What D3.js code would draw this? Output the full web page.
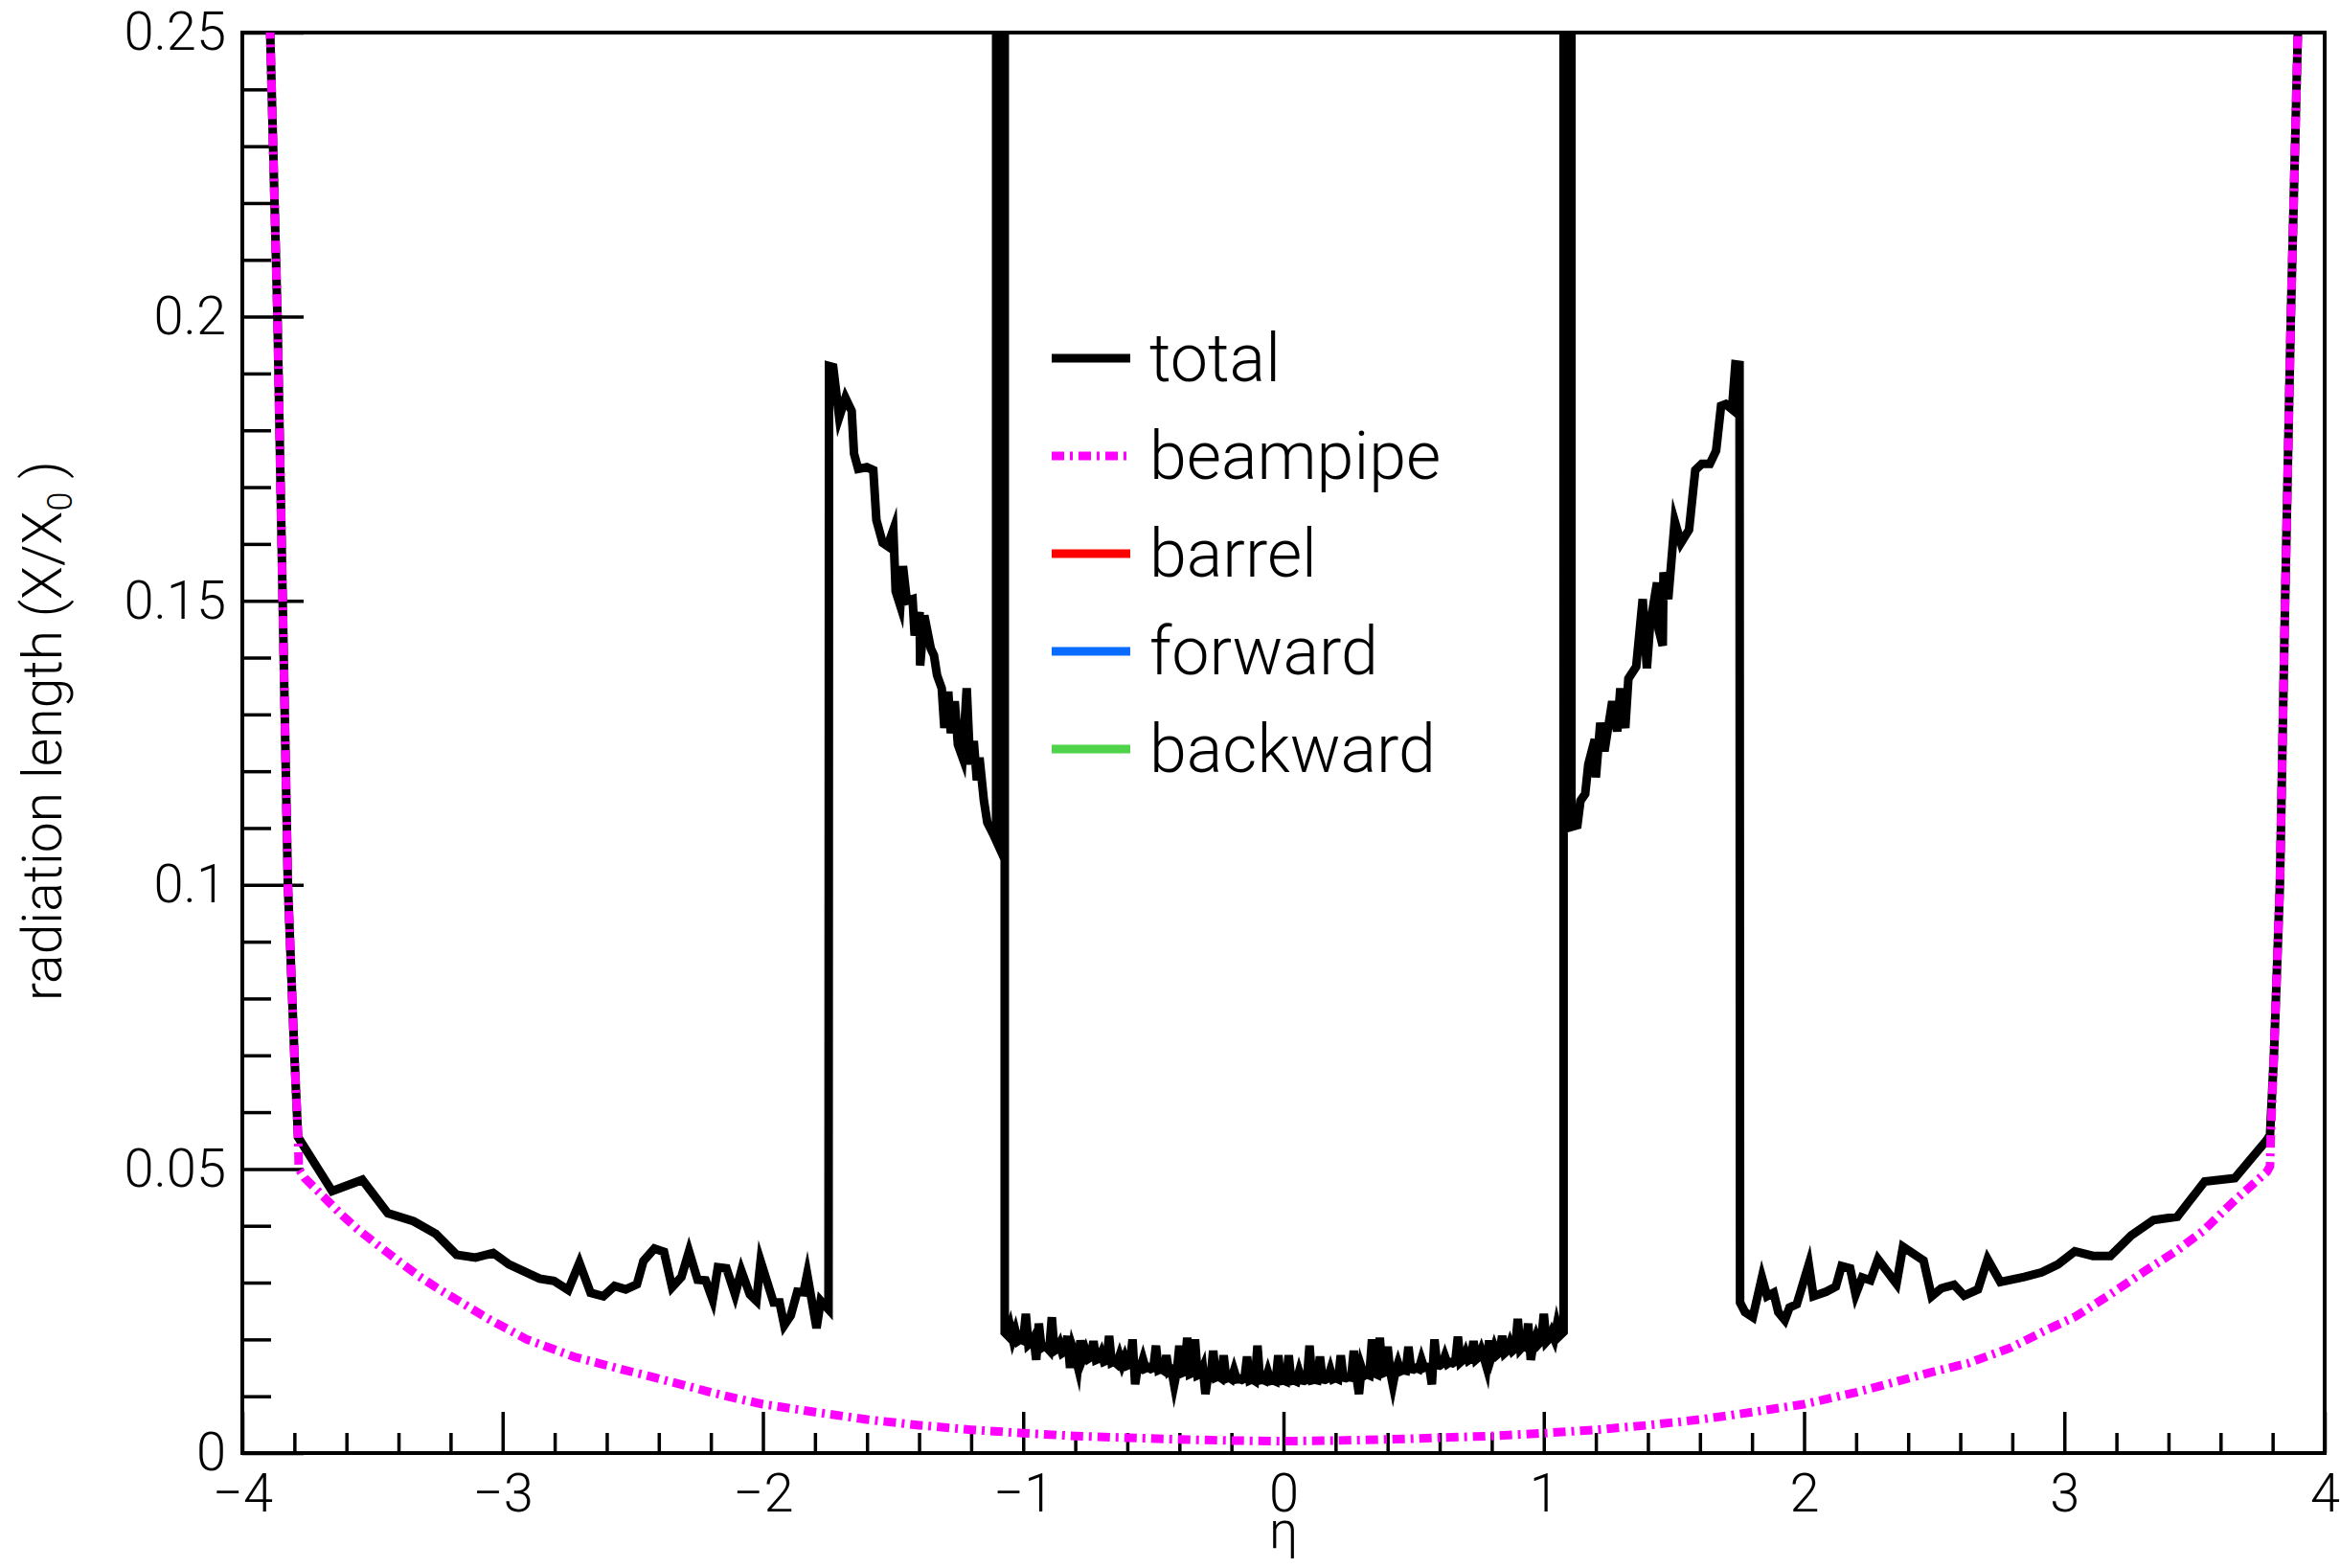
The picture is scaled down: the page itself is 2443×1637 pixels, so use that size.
<!DOCTYPE html>
<html>
<head>
<meta charset="utf-8">
<script src="https://cdn.jsdelivr.net/npm/d3@7"></script>
<style>
  body { margin: 0; background: #fff; }
  text { font-family: "Helvetica Neue", Roboto, "Liberation Sans", sans-serif; font-weight: 300; fill: #000; }
</style>
</head>
<body>
<div id="chart"></div>
<script>
// ---- data: [eta, X/X0] ----
var totalLeftTail = [
  [-3.905,0.27],[-3.893,0.25],[-3.865,0.2],[-3.845,0.15],[-3.825,0.1],[-3.800,0.07],[-3.786,0.0556],
  [-3.655,0.0461],[-3.539,0.0481],[-3.441,0.0422],[-3.342,0.0408],[-3.257,0.0386],[-3.177,0.0349],
  [-3.104,0.0344],[-3.036,0.0352],[-2.975,0.0332],[-2.858,0.0307],[-2.803,0.0303],[-2.748,0.0287],
  [-2.705,0.0335],[-2.662,0.0282],[-2.613,0.0276],[-2.570,0.0294],[-2.527,0.0288],[-2.484,0.0297],
  [-2.459,0.0338],[-2.417,0.0360],[-2.380,0.0354],[-2.349,0.0292],[-2.313,0.0310],[-2.284,0.0355],
  [-2.251,0.0305],[-2.220,0.0304],[-2.193,0.0270],[-2.173,0.0327],[-2.140,0.0325],[-2.107,0.0279],
  [-2.083,0.0321],[-2.050,0.0279],[-2.025,0.0268],[-2.009,0.0338],[-1.959,0.0265],[-1.936,0.0265],
  [-1.918,0.0225],[-1.893,0.0242],[-1.868,0.0284],[-1.844,0.0283],[-1.830,0.0315],[-1.794,0.0220],
  [-1.778,0.0268],[-1.748,0.0253]
];
var totalLeftBump = [
  [-1.746,0.1913],[-1.730,0.1911],[-1.707,0.1823],[-1.683,0.1857],[-1.659,0.1834],[-1.650,0.1759],
  [-1.634,0.1732],[-1.601,0.1735],[-1.576,0.1730],[-1.564,0.1642],[-1.540,0.1602],[-1.521,0.1596],
  [-1.499,0.1625],[-1.490,0.1517],[-1.472,0.1491],[-1.462,0.1561],[-1.447,0.1500],[-1.425,0.1503],
  [-1.417,0.1439],[-1.398,0.1480],[-1.396,0.1386],[-1.380,0.1474],[-1.355,0.1416],[-1.343,0.1404],
  [-1.331,0.1369],[-1.313,0.1346],[-1.303,0.1276],[-1.288,0.1340],[-1.278,0.1267],[-1.263,0.1323],
  [-1.251,0.1247],[-1.233,0.1224],[-1.217,0.1346],[-1.204,0.1212],[-1.190,0.1253],[-1.178,0.1184],
  [-1.168,0.1224],[-1.151,0.1148],[-1.138,0.1110],[-1.116,0.1090],[-1.104,0.1078],
  [-1.100,3.0],[-1.071,3.0],[-1.071,0.0212]
];
// central region, one point per 0.01 in eta
var totalCentre = [
  [-1.06,0.0207],[-1.05,0.0222],[-1.04,0.0201],[-1.03,0.0215],[-1.02,0.0197],[-1.01,0.0200],
  [-1.00,0.0198],[-0.99,0.0245],[-0.98,0.0191],[-0.97,0.0195],[-0.96,0.0203],[-0.95,0.0164],
  [-0.94,0.0228],[-0.93,0.0185],[-0.92,0.0188],[-0.91,0.0186],[-0.90,0.0181],[-0.89,0.0239],
  [-0.88,0.0180],[-0.87,0.0183],[-0.86,0.0192],[-0.85,0.0176],[-0.84,0.0179],[-0.83,0.0206],
  [-0.82,0.0150],[-0.81,0.0185],[-0.80,0.0171],[-0.79,0.0152],[-0.78,0.0198],[-0.77,0.0168],
  [-0.76,0.0180],[-0.75,0.0166],[-0.74,0.0169],[-0.73,0.0197],[-0.72,0.0164],[-0.71,0.0166],
  [-0.70,0.0176],[-0.69,0.0161],[-0.68,0.0163],[-0.67,0.0206],[-0.66,0.0159],[-0.65,0.0161],
  [-0.64,0.0157],[-0.63,0.0171],[-0.62,0.0156],[-0.61,0.0168],[-0.60,0.0154],[-0.59,0.0156],
  [-0.58,0.0200],[-0.57,0.0121],[-0.56,0.0153],[-0.55,0.0150],[-0.54,0.0165],[-0.53,0.0149],
  [-0.52,0.0151],[-0.51,0.0148],[-0.50,0.0150],[-0.49,0.0189],[-0.48,0.0146],[-0.47,0.0148],
  [-0.46,0.0145],[-0.45,0.0172],[-0.44,0.0143],[-0.43,0.0146],[-0.42,0.0120],[-0.41,0.0143],
  [-0.40,0.0189],[-0.39,0.0141],[-0.38,0.0143],[-0.37,0.0203],[-0.36,0.0139],[-0.35,0.0141],
  [-0.34,0.0200],[-0.33,0.0137],[-0.32,0.0139],[-0.31,0.0150],[-0.30,0.0104],[-0.29,0.0136],
  [-0.28,0.0134],[-0.27,0.0180],[-0.26,0.0133],[-0.25,0.0135],[-0.24,0.0132],[-0.23,0.0172],
  [-0.22,0.0131],[-0.21,0.0133],[-0.20,0.0130],[-0.19,0.0145],[-0.18,0.0130],[-0.17,0.0131],
  [-0.16,0.0129],[-0.15,0.0131],[-0.14,0.0170],[-0.13,0.0128],[-0.12,0.0130],[-0.11,0.0127],
  [-0.10,0.0189],[-0.09,0.0128],[-0.08,0.0129],[-0.07,0.0127],[-0.06,0.0142],[-0.05,0.0127],
  [-0.04,0.0128],[-0.03,0.0126],[-0.02,0.0172],[-0.01,0.0127],[0.00,0.0128],[0.01,0.0126],
  [0.02,0.0172],[0.03,0.0127],[0.04,0.0128],[0.05,0.0126],[0.06,0.0143],[0.07,0.0128],
  [0.08,0.0127],[0.09,0.0129],[0.10,0.0189],[0.11,0.0128],[0.12,0.0129],[0.13,0.0128],
  [0.14,0.0170],[0.15,0.0130],[0.16,0.0129],[0.17,0.0131],[0.18,0.0146],[0.19,0.0130],
  [0.20,0.0132],[0.21,0.0130],[0.22,0.0172],[0.23,0.0133],[0.24,0.0132],[0.25,0.0134],
  [0.26,0.0133],[0.27,0.0180],[0.28,0.0135],[0.29,0.0104],[0.30,0.0150],[0.31,0.0136],
  [0.32,0.0139],[0.33,0.0137],[0.34,0.0200],[0.35,0.0140],[0.36,0.0138],[0.37,0.0203],
  [0.38,0.0140],[0.39,0.0142],[0.40,0.0187],[0.41,0.0143],[0.42,0.0120],[0.43,0.0144],
  [0.44,0.0158],[0.45,0.0144],[0.46,0.0146],[0.47,0.0145],[0.48,0.0187],[0.49,0.0148],
  [0.50,0.0147],[0.51,0.0150],[0.52,0.0148],[0.53,0.0164],[0.54,0.0150],[0.55,0.0152],
  [0.56,0.0151],[0.57,0.0121],[0.58,0.0200],[0.59,0.0155],[0.60,0.0154],[0.61,0.0157],
  [0.62,0.0170],[0.63,0.0157],[0.64,0.0160],[0.65,0.0158],[0.66,0.0161],[0.67,0.0205],
  [0.68,0.0160],[0.69,0.0164],[0.70,0.0176],[0.71,0.0163],[0.72,0.0166],[0.73,0.0197],
  [0.74,0.0165],[0.75,0.0169],[0.76,0.0181],[0.77,0.0168],[0.78,0.0152],[0.79,0.0198],
  [0.80,0.0171],[0.81,0.0186],[0.82,0.0173],[0.83,0.0177],[0.84,0.0206],[0.85,0.0176],
  [0.86,0.0180],[0.87,0.0193],[0.88,0.0180],[0.89,0.0184],[0.90,0.0236],[0.91,0.0183],
  [0.92,0.0188],[0.93,0.0186],[0.94,0.0228],[0.95,0.0164],[0.96,0.0192],[0.97,0.0205],
  [0.98,0.0192],[0.99,0.0197],[1.00,0.0245],[1.01,0.0196],[1.02,0.0201],[1.03,0.0212],
  [1.04,0.0201],[1.05,0.0225],[1.06,0.0206]
];
var totalRightBump = [
  [1.076,0.0213],[1.076,3.0],[1.106,3.0],[1.106,0.1102],
  [1.129,0.1105],[1.141,0.1148],[1.159,0.1160],[1.171,0.1212],[1.196,0.1256],[1.200,0.1189],
  [1.217,0.1285],[1.233,0.1235],[1.263,0.1323],[1.282,0.1270],[1.294,0.1346],[1.313,0.1276],
  [1.325,0.1363],[1.355,0.1384],[1.380,0.1503],[1.396,0.1381],[1.408,0.1456],[1.435,0.1532],
  [1.441,0.1450],[1.457,0.1421],[1.460,0.1550],[1.478,0.1503],[1.503,0.1640],[1.527,0.1602],
  [1.558,0.1625],[1.582,0.1730],[1.607,0.1741],[1.638,0.1741],[1.662,0.1764],[1.681,0.1843],
  [1.699,0.1846],[1.723,0.1837],[1.736,0.1916],[1.752,0.1915]
];
var totalRightTail = [
  [1.754,0.0265],[1.773,0.0248],[1.803,0.0239],[1.838,0.0309],[1.858,0.0276],[1.883,0.0282],
  [1.901,0.0248],[1.926,0.0234],[1.944,0.0256],[1.972,0.0262],[2.018,0.0332],[2.036,0.0276],
  [2.085,0.0284],[2.122,0.0293],[2.144,0.0329],[2.177,0.0325],[2.198,0.0279],[2.223,0.0309],
  [2.255,0.0304],[2.284,0.0341],[2.355,0.0298],[2.380,0.0363],[2.459,0.0339],[2.490,0.0276],
  [2.527,0.0290],[2.576,0.0296],[2.615,0.0277],[2.668,0.0288],[2.705,0.0341],[2.754,0.0301],
  [2.846,0.0310],[2.913,0.0318],[2.975,0.0332],[3.040,0.0355],[3.110,0.0347],[3.177,0.0347],
  [3.257,0.0383],[3.342,0.0410],[3.434,0.0416],[3.539,0.0478],[3.655,0.0484],[3.778,0.0551],
  [3.790,0.0560],[3.805,0.07],[3.828,0.1],[3.848,0.15],[3.870,0.2],[3.897,0.25],[3.905,0.27]
];
var beampipe = [
  [-3.905,0.27],[-3.893,0.25],[-3.865,0.2],[-3.845,0.15],[-3.825,0.1],[-3.800,0.07],[-3.786,0.056],
  [-3.783,0.0500],[-3.760,0.0484],[-3.692,0.0453],[-3.620,0.0420],[-3.557,0.0394],[-3.471,0.0363],
  [-3.400,0.0338],[-3.324,0.0312],[-3.250,0.0290],[-3.177,0.0270],[-3.054,0.0236],[-2.907,0.0200],
  [-2.800,0.0182],[-2.723,0.0169],[-2.630,0.0158],[-2.539,0.0147],[-2.417,0.0133],[-2.300,0.0119],
  [-2.200,0.0107],[-2.100,0.0096],[-2.000,0.0086],[-1.800,0.0072],[-1.600,0.0059],[-1.400,0.0049],
  [-1.200,0.0041],[-1.000,0.0035],[-0.800,0.0030],[-0.600,0.0027],[-0.400,0.0024],[-0.200,0.0022],
  [0.000,0.0021],[0.200,0.0022],[0.400,0.0024],[0.600,0.0027],[0.800,0.0030],[1.000,0.0035],
  [1.200,0.0041],[1.400,0.0049],[1.600,0.0059],[1.800,0.0072],[2.000,0.0086],[2.200,0.0107],
  [2.300,0.0119],[2.478,0.0141],[2.630,0.0158],[2.797,0.0186],[2.919,0.0214],[3.042,0.0240],
  [3.165,0.0276],[3.312,0.0321],[3.434,0.0357],[3.533,0.0391],[3.655,0.0445],[3.778,0.0495],
  [3.790,0.0505],[3.793,0.056],[3.805,0.07],[3.828,0.1],[3.848,0.15],[3.870,0.2],[3.897,0.25],[3.905,0.27]
];
var legendNames = ["total", "beampipe", "barrel", "forward", "backward"];
var legendColors = ["#000000", "#ff00ff", "#ff0000", "#0a6cff", "#4fd34a"];
var xMajor = [-4, -3, -2, -1, 0, 1, 2, 3, 4];
var yMajor = [0, 0.05, 0.1, 0.15, 0.2, 0.25];

var total = totalLeftTail.concat(totalLeftBump, totalCentre, totalRightBump, totalRightTail);

// ---- layout ----
var W = 2443, H = 1637;
var plot = {left: 253, right: 2427, top: 34, bottom: 1517};
var beamDash = "13,6,3,6";

var svg = d3.select("#chart").append("svg")
    .attr("width", W)
    .attr("height", H);

var x = d3.scaleLinear().domain([-4, 4]).range([plot.left, plot.right]);
var y = d3.scaleLinear().domain([0, 0.25]).range([plot.bottom, plot.top]);

svg.append("clipPath").attr("id", "clip")
  .append("rect")
    .attr("x", plot.left).attr("y", plot.top)
    .attr("width", plot.right - plot.left)
    .attr("height", plot.bottom - plot.top);

// minor ticks
var xMinor = d3.range(-40, 41, 2).map(function(d) { return d / 10; })
    .filter(function(d) { return xMajor.indexOf(d) < 0; });
var yMinor = d3.range(0, 26, 1).map(function(d) { return d / 100; })
    .filter(function(d) { return Math.round(d * 100) % 5 != 0; });

svg.append("g")
    .attr("class", "axis")
    .attr("transform", "translate(0," + plot.bottom + ")")
    .call(d3.axisBottom(x).tickValues(xMinor).tickSize(-21).tickFormat(""));
svg.append("g")
    .attr("class", "axis xmaj")
    .attr("transform", "translate(0," + plot.bottom + ")")
    .call(d3.axisBottom(x).tickValues(xMajor).tickSize(-43).tickPadding(21)
      .tickFormat(d3.format("d")));

svg.append("g")
    .attr("class", "axis")
    .attr("transform", "translate(" + plot.left + ",0)")
    .call(d3.axisLeft(y).tickValues(yMinor).tickSize(-30).tickFormat(""));
svg.append("g")
    .attr("class", "axis ymaj")
    .attr("transform", "translate(" + plot.left + ",0)")
    .call(d3.axisLeft(y).tickValues(yMajor).tickSize(-64).tickPadding(17)
      .tickFormat(function(d) { return String(+d.toFixed(2)); }));

svg.selectAll(".axis .domain").remove();
svg.selectAll(".axis line").attr("stroke", "#000").attr("stroke-width", 3.5);
svg.selectAll(".axis text").style("font-size", "56px").attr("fill", "#000");

// frame
svg.append("rect")
    .attr("x", plot.left).attr("y", plot.top)
    .attr("width", plot.right - plot.left)
    .attr("height", plot.bottom - plot.top)
    .attr("fill", "none")
    .attr("stroke", "#000")
    .attr("stroke-width", 4);

// curves
var line = d3.line()
    .x(function(d) { return x(d[0]); })
    .y(function(d) { return y(d[1]); });

var curves = svg.append("g").attr("clip-path", "url(#clip)");

curves.append("path")
    .datum(total)
    .attr("d", line)
    .attr("fill", "none")
    .attr("stroke", legendColors[0])
    .attr("stroke-width", 9)
    .attr("stroke-linejoin", "miter")
    .attr("stroke-miterlimit", 6);

curves.append("path")
    .datum(beampipe)
    .attr("d", line)
    .attr("fill", "none")
    .attr("stroke", legendColors[1])
    .attr("stroke-width", 9)
    .attr("stroke-dasharray", beamDash);

// axis titles
svg.append("text")
    .attr("x", x(0))
    .attr("y", 1616)
    .attr("text-anchor", "middle")
    .style("font-size", "54px")
    .text("η");

var ylab = svg.append("text")
    .attr("transform", "translate(64,763) rotate(-90)")
    .attr("text-anchor", "middle")
    .style("font-size", "57px");
ylab.append("tspan").text("radiation length (X/X");
ylab.append("tspan").attr("baseline-shift", "-30%").style("font-size", "36px").text("0");
ylab.append("tspan").text(" )");

// legend
var legend = svg.append("g")
    .selectAll("g")
    .data(legendNames)
  .enter().append("g")
    .attr("transform", function(d, i) { return "translate(1098," + (374 + i * 102) + ")"; });

legend.append("line")
    .attr("x1", 0).attr("x2", 82)
    .attr("stroke", function(d, i) { return legendColors[i]; })
    .attr("stroke-width", 9)
    .attr("stroke-dasharray", function(d, i) { return i == 1 ? beamDash : null; });

legend.append("text")
    .attr("x", 102)
    .attr("dy", "0.34em")
    .style("font-size", "70px")
    .text(function(d) { return d; });
</script>
</body>
</html>
